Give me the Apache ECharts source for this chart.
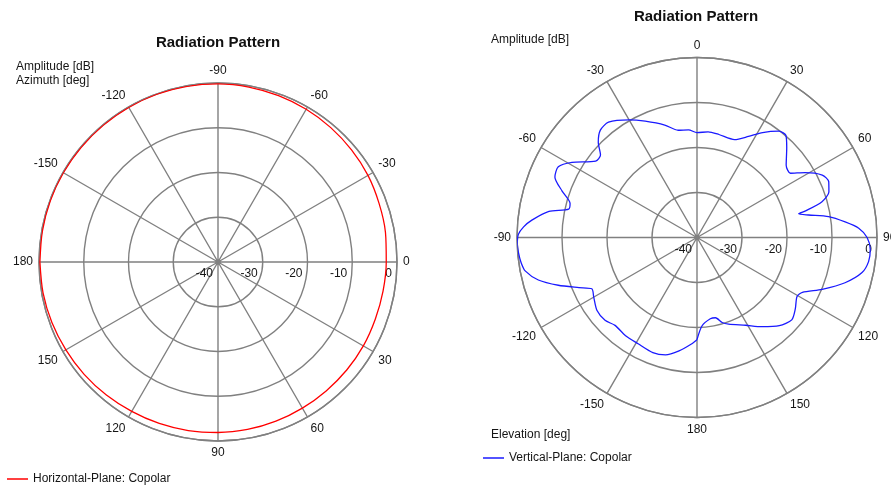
<!DOCTYPE html>
<html>
<head>
<meta charset="utf-8">
<script src="https://cdn.jsdelivr.net/npm/echarts@6/dist/echarts.min.js"></script>
<style>
  html, body { margin: 0; padding: 0; background: #ffffff; }
  #chart { width: 891px; height: 488px; }
</style>
</head>
<body>
<div id="chart"></div>
<script>
// Antenna radiation patterns: azimuth (horizontal plane) and elevation (vertical plane)
const FONT = '"Liberation Sans", Arial, Helvetica, sans-serif';

// Amplitude axis (dB), shared by both plots
const ampMin = -40;
const ampMax = 0;
const ampStep = 10;

// Horizontal plane, copolar: azimuth angle (deg) and amplitude (dB)
const hAngles = [-180, -170, -160, -150, -140, -130, -120, -110, -100, -90, -80, -70, -60, -50, -40, -30, -20, -10,
                 0, 10, 20, 30, 40, 50, 60, 70, 80, 90, 100, 110, 120, 130, 140, 150, 160, 170, 180];
const hAmp    = [-0.2, -0.15, -0.1, -0.1, -0.1, -0.1, -0.1, -0.1, -0.15, -0.2, -0.3, -0.45, -0.6, -0.8, -1.05, -1.3, -1.7, -2.0,
                 -2.4, -2.55, -2.6, -2.5, -2.45, -2.4, -2.3, -2.15, -2.0, -1.9, -1.75, -1.6, -1.45, -1.2, -0.95, -0.75, -0.5, -0.3, -0.2];

// Vertical plane, copolar: elevation angle (deg) and amplitude (dB)
const vAngles = [-180, -177, -171, -165, -159, -151, -144, -137, -132, -126, -120, -116, -113, -109, -105, -101, -98, -95, -92, -89,
                 -86.5, -84, -80, -77.5, -75, -71, -67, -63, -59, -53, -49.5, -46, -42, -37.5, -30, -24, -16, -10, -4.5,
                 0, 6, 12, 21, 27, 32, 37.5, 41, 45, 51, 55.5, 59, 63.5, 67, 71, 74, 76.3, 76.9, 78.6, 81, 84, 86.7,
                 90, 94, 98, 102, 107, 112.5, 117.5, 120.5, 126, 131, 137, 144, 151, 160, 163.5, 167, 170.7, 176.8, 180];
const vAmp    = [-17.3, -16.3, -14.5, -13.0, -12.6, -13.0, -13.0, -13.3, -12.5, -12.5, -13.5, -14.0, -11.5, -7.4, -3.5, -1.1, -0.5, -0.2, -0.05, -0.3,
                 -1.4, -3.1, -6.6, -10.8, -10.8, -8.3, -5.7, -5.4, -7.6, -11.8, -11.8, -9.5, -7.9, -7.7, -9.8, -11.7, -14.0, -15.8, -16.0,
                 -16.7, -16.4, -16.6, -16.7, -14.8, -12.5, -10.2, -9.9, -11.8, -14.5, -14.8, -12.0, -8.9, -8.2, -9.0, -11.1, -15.3, -16.8, -14.7, -10.4, -6.9, -4.0,
                 -2.2, -1.4, -1.5, -2.5, -5.6, -9.9, -13.6, -14.2, -13.0, -12.1, -13.2, -15.5, -17.7, -19.5, -20.3, -21.7, -21.7, -20.3, -17.3];

const seriesNames = ['Horizontal-Plane: Copolar', 'Vertical-Plane: Copolar'];
const titles = ['Radiation Pattern', 'Radiation Pattern'];

const GRID = '#808080';
const TXT = '#151515';

// Signed label in the range (-180, 180]
function signedDeg(v) {
  const a = ((v % 360) + 360) % 360;
  return a > 180 ? a - 360 : a;
}

// Azimuth plot: 0 deg points east, angles grow clockwise
const hData = hAngles.map((a, i) => [hAmp[i], ((a % 360) + 360) % 360]);
// Elevation plot: 0 deg points north; axis runs 90..450 so that east = 90
const vData = vAngles.map((a, i) => {
  let m = ((a % 360) + 360) % 360;
  if (m < 90) m += 360;
  return [vAmp[i], m];
});

function radiusAxis(idx) {
  return {
    polarIndex: idx,
    type: 'value',
    min: ampMin, max: ampMax, interval: ampStep,
    axisLine: { show: false },
    axisTick: { show: false },
    splitLine: { show: true, lineStyle: { color: GRID, width: 1.4 } },
    // amplitude labels sit just below the 0-degree spoke, left of each ring
    axisLabel: {
      color: TXT, fontFamily: FONT, fontSize: 12,
      align: 'right', verticalAlign: 'top', padding: [0, 5, 0, 0], margin: -6
    },
    z: 5
  };
}

function angleAxis(idx, min, max, lastHidden) {
  return {
    polarIndex: idx,
    type: 'value',
    min: min, max: max, interval: 30,
    startAngle: 0,
    clockwise: true,
    axisLine: { show: true, lineStyle: { color: GRID, width: 1.4 } },
    axisTick: { show: false },
    splitLine: { show: true, lineStyle: { color: GRID, width: 1.4 } },
    axisLabel: {
      color: TXT, fontFamily: FONT, fontSize: 12, margin: 6,
      formatter: v => (v >= lastHidden ? '' : String(signedDeg(v)))
    }
  };
}

const chart = echarts.init(document.getElementById('chart'), null, { renderer: 'canvas' });

chart.setOption({
  backgroundColor: '#ffffff',
  animation: false,
  title: [
    { text: titles[0], left: 218, top: 35, textAlign: 'center', padding: 0,
      textStyle: { fontFamily: FONT, fontSize: 15, fontWeight: 'bold', color: '#111' } },
    { text: titles[1], left: 696, top: 9, textAlign: 'center', padding: 0,
      textStyle: { fontFamily: FONT, fontSize: 15, fontWeight: 'bold', color: '#111' } },
    { text: 'Amplitude [dB]\nAzimuth [deg]', left: 16, top: 60, padding: 0,
      textStyle: { fontFamily: FONT, fontSize: 12, fontWeight: 'normal', color: TXT, lineHeight: 13.5 } },
    { text: 'Amplitude [dB]', left: 491, top: 34, padding: 0,
      textStyle: { fontFamily: FONT, fontSize: 12, fontWeight: 'normal', color: TXT } },
    { text: 'Elevation [deg]', left: 491, top: 429, padding: 0,
      textStyle: { fontFamily: FONT, fontSize: 12, fontWeight: 'normal', color: TXT } }
  ],
  legend: [
    { data: [seriesNames[0]], left: 7, top: 473, padding: 0, icon: 'rect', itemWidth: 21, itemHeight: 2,
      textStyle: { fontFamily: FONT, fontSize: 12, color: TXT }, itemStyle: { opacity: 0.75 } },
    { data: [seriesNames[1]], left: 483, top: 452, padding: 0, icon: 'rect', itemWidth: 21, itemHeight: 2,
      textStyle: { fontFamily: FONT, fontSize: 12, color: TXT }, itemStyle: { opacity: 0.75 } }
  ],
  polar: [
    { center: [218, 262], radius: 179 },
    { center: [697, 237.5], radius: 180 }
  ],
  angleAxis: [
    angleAxis(0, 0, 360, 360),
    angleAxis(1, 90, 450, 450)
  ],
  radiusAxis: [
    radiusAxis(0),
    radiusAxis(1)
  ],
  series: [
    {
      name: seriesNames[0], type: 'line', coordinateSystem: 'polar', polarIndex: 0,
      data: hData, showSymbol: false, smooth: 0.3,
      lineStyle: { color: '#ff0000', width: 1.3 }, itemStyle: { color: '#ff0000' }, z: 10
    },
    {
      name: seriesNames[1], type: 'line', coordinateSystem: 'polar', polarIndex: 1,
      data: vData, showSymbol: false, smooth: 0.25,
      lineStyle: { color: '#1a1aff', width: 1.3 }, itemStyle: { color: '#1a1aff' }, z: 10
    }
  ]
});
</script>
</body>
</html>
